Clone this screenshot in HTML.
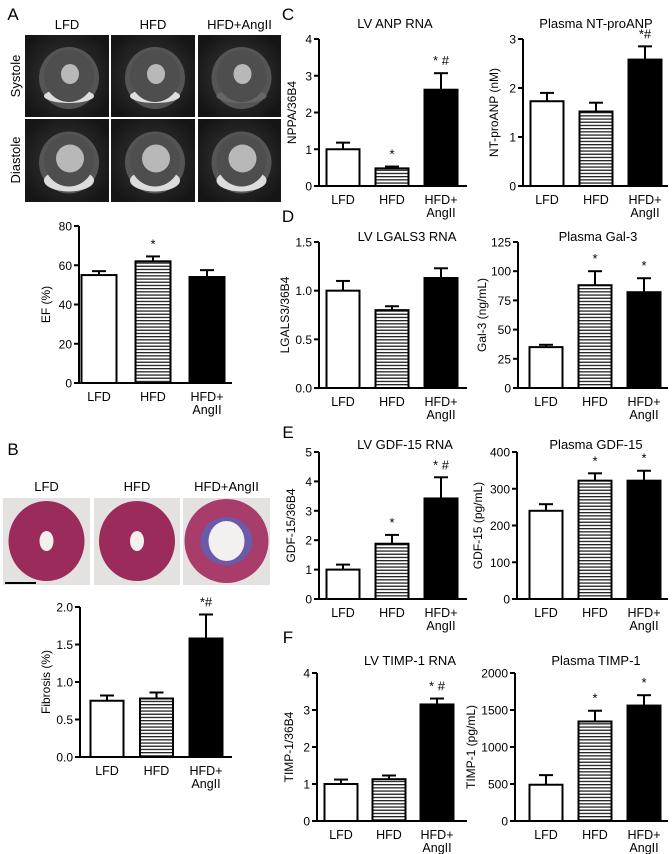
<!DOCTYPE html>
<html><head><meta charset="utf-8"><style>
html,body{margin:0;padding:0;background:#fff;}
svg{display:block;font-family:"Liberation Sans",Arial,sans-serif;}
</style></head><body>
<svg id="fig" width="672" height="854" viewBox="0 0 672 854" xmlns="http://www.w3.org/2000/svg">
<defs>
<pattern id="hatch" width="4" height="3.2" patternUnits="userSpaceOnUse">
<rect width="4" height="3.2" fill="#fff"/><rect y="0" width="4" height="1.3" fill="#222"/>
</pattern>
<radialGradient id="mri" cx="50%" cy="50%" r="60%"><stop offset="0" stop-color="#3a3a3a"/><stop offset="1" stop-color="#151515"/></radialGradient>
</defs>
<g id="static"></g>
<g id="charts"></g>
</svg>
<script>
// ---- data ----
const categories = ["LFD","HFD","HFD+|AngII"];
const efValues = [55, 62, 54];
const efErrors = [2, 2.5, 3.5];
const efMarks = ["", "*", ""];
const efTicks = ["0","20","40","60","80"];
const fibValues = [0.75, 0.78, 1.58];
const fibErrors = [0.07, 0.08, 0.32];
const fibMarks = ["", "", "*#"];
const fibTicks = ["0.0","0.5","1.0","1.5","2.0"];
const anpValues = [1.0, 0.48, 2.62];
const anpErrors = [0.18, 0.05, 0.45];
const anpMarks = ["", "*", "* #"];
const anpTicks = ["0","1","2","3","4"];
const ntValues = [1.73, 1.52, 2.58];
const ntErrors = [0.17, 0.18, 0.27];
const ntMarks = ["", "", "*#"];
const ntTicks = ["0","1","2","3"];
const lgValues = [1.0, 0.8, 1.13];
const lgErrors = [0.1, 0.04, 0.1];
const lgMarks = ["", "", ""];
const lgTicks = ["0.0","0.5","1.0","1.5"];
const galValues = [35, 88, 82];
const galErrors = [2, 12, 12];
const galMarks = ["", "*", "*"];
const galTicks = ["0","25","50","75","100","125"];
const gdfValues = [1.0, 1.88, 3.42];
const gdfErrors = [0.17, 0.3, 0.72];
const gdfMarks = ["", "*", "* #"];
const gdfTicks = ["0","1","2","3","4","5"];
const pgdfValues = [240, 322, 322];
const pgdfErrors = [18, 20, 27];
const pgdfMarks = ["", "*", "*"];
const pgdfTicks = ["0","100","200","300","400"];
const timpValues = [1.0, 1.13, 3.15];
const timpErrors = [0.12, 0.1, 0.16];
const timpMarks = ["", "", "* #"];
const timpTicks = ["0","1","2","3","4"];
const ptimpValues = [490, 1345, 1560];
const ptimpErrors = [130, 145, 140];
const ptimpMarks = ["", "*", "*"];
const ptimpTicks = ["0","500","1000","1500","2000"];

const NS = "http://www.w3.org/2000/svg";
function mk(tag, attrs, parent, text){
  const e = document.createElementNS(NS, tag);
  for (const k in attrs) e.setAttribute(k, attrs[k]);
  if (text !== undefined) e.textContent = text;
  parent.appendChild(e); return e;
}
const fills = ["#fff","url(#hatch)","#000"];

function chart(name, values, errors, marks, ticks, cfg){
  const root = document.getElementById("charts");
  const g = mk("g", {}, root);
  
  
  const max = parseFloat(ticks[ticks.length-1]);
  const ys = v => cfg.y0 - (v / max) * (cfg.y0 - cfg.ytop);
  const xc = i => cfg.ax + cfg.first + i * cfg.sp;
  values.forEach((v, i) => {
    const x = xc(i) - cfg.bw/2, y = ys(v);
    const top = ys(v + errors[i]);
    const eb = mk("line", {x1:xc(i), x2:xc(i), y1:y, y2:top, stroke:"#000","stroke-width":2}, g);
    
    
    const cap = mk("line", {x1:xc(i)-7, x2:xc(i)+7, y1:top, y2:top, stroke:"#000","stroke-width":2}, g);
    
    
    const r = mk("rect", {x:x, y:y, width:cfg.bw, height:cfg.y0 - y, fill:fills[i], stroke:"#000","stroke-width":2}, g);
    
    
    if (marks[i]) {
      const t = mk("text", {x:xc(i), y:top - 8, "text-anchor":"middle","font-size":13}, g, marks[i]);
      
      
    }
    const parts = categories[i].split("|");
    parts.forEach((p, j) => {
      const t = mk("text", {x:xc(i), y:cfg.y0 + 18 + j*13, "text-anchor":"middle","font-size":12.5}, g, p);
      
      
    });
  });
  const ya = mk("line", {x1:cfg.ax, x2:cfg.ax, y1:cfg.ytop, y2:cfg.y0 + 1, stroke:"#000","stroke-width":2}, g);
  
  
  const xa = mk("line", {x1:cfg.ax - 5, x2:cfg.xEnd, y1:cfg.y0, y2:cfg.y0, stroke:"#000","stroke-width":2}, g);
  
  
  ticks.forEach(tk => {
    const y = ys(parseFloat(tk));
    mk("line", {x1:cfg.ax - 5, x2:cfg.ax, y1:y, y2:y, stroke:"#000","stroke-width":2}, g);
    const t = mk("text", {x:cfg.ax - 7, y:y + 4.5, "text-anchor":"end","font-size":12}, g, tk);
    
    
  });
  const ym = (cfg.y0 + cfg.ytop) / 2;
  const yl = mk("text", {x:cfg.ylx, y:ym, "text-anchor":"middle","font-size":12, transform:`rotate(-90 ${cfg.ylx} ${ym})`}, g, cfg.ylabel);
  
  
  if (cfg.title) {
    const t = mk("text", {x:cfg.tx, y:cfg.ty, "text-anchor":"middle","font-size":13}, g, cfg.title);
    
    
  }
}

chart("ef-chart", efValues, efErrors, efMarks, efTicks, {ax:79,y0:383,ytop:226,xEnd:232,first:20,sp:54,bw:35,ylx:50,ylabel:"EF (%)"});
chart("fibrosis-chart", fibValues, fibErrors, fibMarks, fibTicks, {ax:80,y0:757,ytop:607,xEnd:232,first:27,sp:49.5,bw:33,ylx:50,ylabel:"Fibrosis (%)"});
chart("lv-anp-chart", anpValues, anpErrors, anpMarks, anpTicks, {ax:319,y0:186,ytop:39,xEnd:467,first:24,sp:49,bw:33,ylx:296,ylabel:"NPPA/36B4",title:"LV ANP RNA",tx:395,ty:28});
chart("plasma-ntproanp-chart", ntValues, ntErrors, ntMarks, ntTicks, {ax:523,y0:186,ytop:39,xEnd:668,first:24,sp:49,bw:33,ylx:498,ylabel:"NT-proANP (nM)",title:"Plasma NT-proANP",tx:596,ty:28});
chart("lv-lgals3-chart", lgValues, lgErrors, lgMarks, lgTicks, {ax:319,y0:388,ytop:242,xEnd:467,first:24,sp:49,bw:33,ylx:289,ylabel:"LGALS3/36B4",title:"LV LGALS3 RNA",tx:407,ty:241});
chart("plasma-gal3-chart", galValues, galErrors, galMarks, galTicks, {ax:518,y0:388,ytop:242,xEnd:668,first:28,sp:49,bw:33,ylx:486,ylabel:"Gal-3 (ng/mL)",title:"Plasma Gal-3",tx:598,ty:241});
chart("lv-gdf15-chart", gdfValues, gdfErrors, gdfMarks, gdfTicks, {ax:319,y0:599,ytop:452,xEnd:467,first:24,sp:49,bw:33,ylx:295,ylabel:"GDF-15/36B4",title:"LV GDF-15 RNA",tx:405,ty:449});
chart("plasma-gdf15-chart", pgdfValues, pgdfErrors, pgdfMarks, pgdfTicks, {ax:517,y0:599,ytop:452,xEnd:668,first:29,sp:49,bw:33,ylx:482,ylabel:"GDF-15 (pg/mL)",title:"Plasma GDF-15",tx:596,ty:449});
chart("lv-timp1-chart", timpValues, timpErrors, timpMarks, timpTicks, {ax:317,y0:821,ytop:673,xEnd:467,first:24,sp:48,bw:33,ylx:293,ylabel:"TIMP-1/36B4",title:"LV TIMP-1 RNA",tx:410,ty:665});
chart("plasma-timp1-chart", ptimpValues, ptimpErrors, ptimpMarks, ptimpTicks, {ax:515,y0:821,ytop:673,xEnd:668,first:31,sp:49,bw:33,ylx:475,ylabel:"TIMP-1 (pg/mL)",title:"Plasma TIMP-1",tx:596,ty:665});

// ---- static images / labels ----
const st = document.getElementById("static");
function lbl(x,y,txt,size,name,rot){
  const a = {x:x,y:y,"font-size":size,"text-anchor":"middle"};
  if (rot) a.transform = `rotate(-90 ${x} ${y})`;
  const t = mk("text", a, st, txt);
  
  
}
[["A",13,20],["C",288,20],["D",288,222],["B",13,455],["E",288,438],["F",288,643]].forEach(p=>{
  const t = mk("text",{x:p[1],y:p[2],"font-size":17,"text-anchor":"middle"},st,p[0]);
  
  
});
const mcols = [[25,84],[111,84],[198,83]], mrows = [[35,82],[119,83]];
["LFD","HFD","HFD+AngII"].forEach((n,i)=>lbl(mcols[i][0]+mcols[i][1]/2, 29, n, 13, 'mri-column-label'));
lbl(20, 76, "Systole", 13, 'mri-row-label', true);
lbl(20, 160, "Diastole", 13, 'mri-row-label', true);
mrows.forEach((r,ri)=>mcols.forEach((c,ci)=>{
  const g = mk("g",{},st);
  
  
  mk("rect",{x:c[0],y:r[0],width:c[1],height:r[1],fill:"url(#mri)"},g);
  const cx=c[0]+c[1]/2+2, cy=r[0]+r[1]/2+2;
  mk("ellipse",{cx:cx,cy:cy,rx:30,ry:31,fill:"#555"},g);
  mk("ellipse",{cx:cx,cy:cy+18,rx:25,ry:ri?11:7,fill:ci===2&&ri===0?"#666":"#ddd"},g);
  mk("ellipse",{cx:cx,cy:cy-2,rx:25,ry:26,fill:"#4e4e4e"},g);
  mk("ellipse",{cx:cx+1,cy:cy-4,rx:ri?14:9,ry:ri?14:10,fill:"#b8b8b8"},g);
}));
const hcols = [[3,87],[94,86],[183,87]];
["LFD","HFD","HFD+AngII"].forEach((n,i)=>lbl(hcols[i][0]+hcols[i][1]/2, 491, n, 13, 'histology-label'));
hcols.forEach((c,i)=>{
  const g = mk("g",{},st);
  
  
  mk("rect",{x:c[0],y:498,width:c[1],height:87,fill:"#e4e2e1"},g);
  const cx=c[0]+c[1]/2, cy=541;
  mk("ellipse",{cx:cx,cy:cy,rx:i===2?42:38,ry:i===2?42:40,fill:i===2?"#a83c6a":"#9a2b5a"},g);
  if(i===2) mk("ellipse",{cx:cx,cy:cy,rx:26,ry:24,fill:"#6a5aa8"},g);
  mk("ellipse",{cx:cx,cy:cy,rx:i===2?18:7,ry:i===2?20:10,fill:"#f4f0f0"},g);
});
mk("line",{x1:5,x2:36,y1:583,y2:583,stroke:"#000","stroke-width":2},st);
</script>
</body></html>
